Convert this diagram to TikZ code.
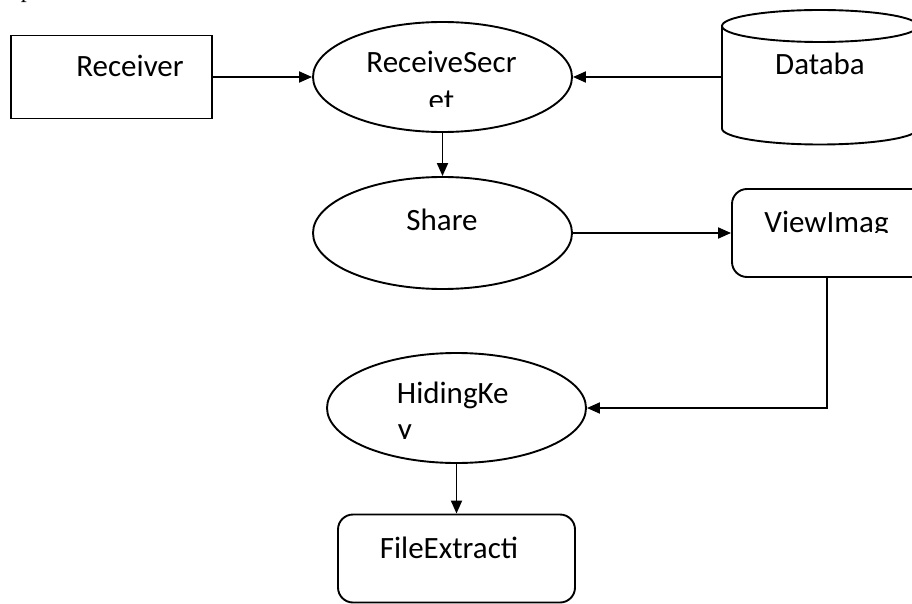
\documentclass[tikz,border=0pt]{standalone}
\usepackage{fontspec}
\setmainfont{Carlito}
\newfontfamily\seriffont{Liberation Serif}
\usetikzlibrary{shapes.geometric,arrows.meta}

\tikzset{
  proc/.style={ellipse, draw, minimum width=259pt, minimum height=110pt, inner sep=0pt},
  ext/.style={rectangle, draw, inner sep=0pt},
  rbox/.style={rectangle, draw, rounded corners=15pt, inner sep=0pt},
  lbl/.style={font=\fontsize{31}{38}\selectfont, inner sep=0pt, anchor=base},
  flow/.style={-{Triangle[length=13pt,width=11pt]}}
}

\begin{document}
\begin{tikzpicture}[x=1pt, y=-1pt, line width=1.9pt]
\useasboundingbox (0,0) rectangle (912,604);
\clip (0,0) rectangle (912,604);

% foot of a letter from the line above
\node[font=\seriffont\fontsize{24}{28}\selectfont, anchor=base west, inner sep=0pt] (pfrag) at (20,-2.2) {p};

% shapes
\node[ext, minimum width=201pt, minimum height=83pt] (recv) at (111.5,77) {};
\node[proc] (rs) at (442.5,77) {};
\node[proc, minimum height=112pt] (share) at (442.5,233) {};
\node[rbox, minimum width=200pt, minimum height=88pt] (view) at (832,233) {};
\node[proc] (hk) at (456.5,408) {};
\node[rbox, minimum width=237pt, minimum height=88pt] (fe) at (456.5,558.5) {};
\node[minimum width=196pt, minimum height=135pt, inner sep=0pt] (db) at (820,77) {};

% database cylinder
\draw (722,26) -- (722,128.5) arc[start angle=180, end angle=0, x radius=98, y radius=16] -- (918,26);
\draw (820,26) ellipse[x radius=98, y radius=16];

% labels
\node[lbl] (tRecv) at (130,77) {Receiver};
\node[lbl] (tRs) at (441.5,73) {ReceiveSecr};
\begin{scope}
  \clip (380,85) rectangle (500,106.5);
  \node[lbl] (tRs2) at (441.5,110.5) {et};
\end{scope}
\node[lbl] (tShare) at (442,230) {Share};
\begin{scope}
  \clip (740,195) rectangle (912,232.5);
  \node[lbl] (tView) at (826.5,232.5) {ViewImag};
\end{scope}
\node[lbl, anchor=base west] (tHk) at (396,403) {HidingKe};
\begin{scope}
  \clip (390,415) rectangle (440,438);
  \node[lbl, anchor=base west] (tHk2) at (397,439) {y};
\end{scope}
\node[lbl] (tFe) at (449,558) {FileExtracti};
\node[lbl] (tDb) at (820,75) {Databa};

% connectors
\draw[flow] (recv.east) -- (rs.west);
\draw[flow] (db.west) -- (rs.east);
\draw[flow] (rs.south) -- (share.north);
\draw[flow] (share.east) -- (view.west);
\draw[flow] ([xshift=-5pt]view.south) |- (hk.east);
\draw[flow] (hk.south) -- (fe.north);
\end{tikzpicture}
\end{document}
